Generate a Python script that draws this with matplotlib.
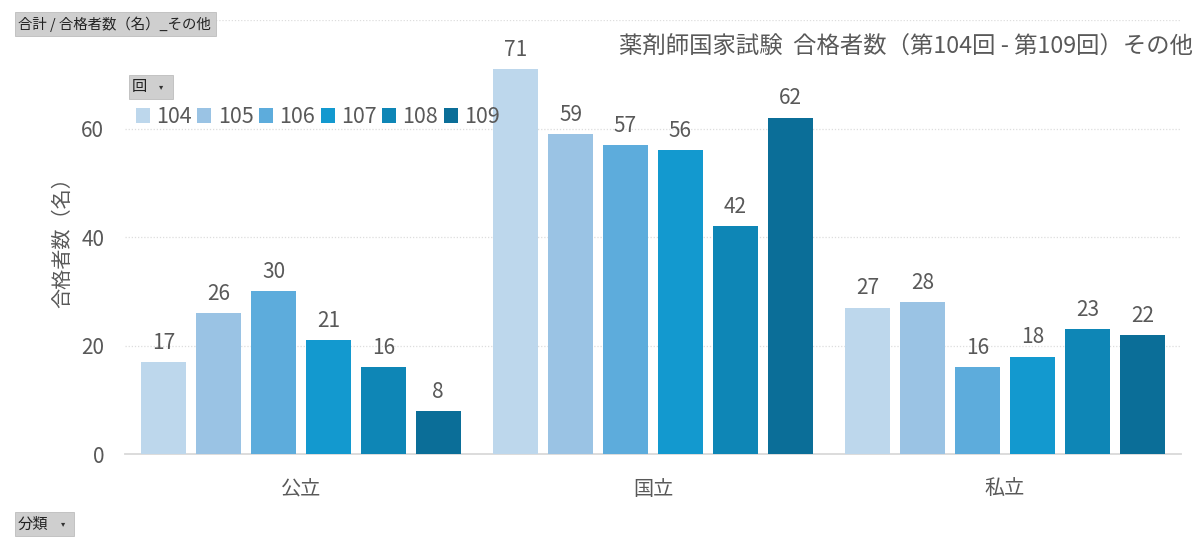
import matplotlib
matplotlib.use("Agg")
import matplotlib.pyplot as plt
import matplotlib.patches as mpatches
import numpy as np

plt.rcParams['font.family'] = ['Noto Sans CJK JP', 'DejaVu Sans']

categories = ['公立', '国立', '私立']
series_names = ['104', '105', '106', '107', '108', '109']
values = {
    '104': [17, 71, 27],
    '105': [26, 59, 28],
    '106': [30, 57, 16],
    '107': [21, 56, 18],
    '108': [16, 42, 23],
    '109': [8, 62, 22],
}
colors = ['#BDD7EC', '#9AC3E4', '#5DACDC', '#1399CF', '#0E86B6', '#0B6E98']
yticks = [0, 20, 40, 60]
title = '薬剤師国家試験  合格者数（第104回 - 第109回）その他'
ylabel = '合格者数（名）'

text_color = '#595959'
W, H = 1200, 548

fig = plt.figure(figsize=(12, 5.48), dpi=100)
ax = fig.add_axes([125/W, 1 - 454.3/H, (1181-125)/W, (454.3-20)/H])

x = np.arange(len(categories))
step = 0.156
width = 0.129
for i, (name, c) in enumerate(zip(series_names, colors)):
    bars = ax.bar(x + (i - 2.5) * step, values[name], width, color=c, label=name, zorder=3)
    ax.bar_label(bars, padding=6, fontsize=15, color=text_color)

ax.set_xlim(-0.5, 2.5)
ax.set_ylim(0, 80)
ax.set_yticks(yticks)
ax.set_xticks(x)
ax.set_xticklabels(categories)
ax.tick_params(axis='both', length=0, labelsize=15, labelcolor=text_color)
ax.tick_params(axis='x', labelsize=14.5, pad=18)
ax.tick_params(axis='y', pad=15)

for v in [20, 40, 60, 80]:
    ax.axhline(v, color='#DDDDDD', linestyle=(0, (1, 1.5)), linewidth=0.9, zorder=1)

for s in ['top', 'right', 'left']:
    ax.spines[s].set_visible(False)
ax.spines['bottom'].set_color('#D9D9D9')
ax.spines['bottom'].set_linewidth(1.3)

ax.set_ylabel(ylabel, fontsize=14.5, color=text_color, labelpad=6)

fig.text(1193/W, 1 - 47/H, title, ha='right', va='center', fontsize=16.8, color=text_color)

leg = ax.legend(loc='upper left', bbox_to_anchor=(136/W, 1 - 106/H), bbox_transform=fig.transFigure,
                ncol=6, frameon=False, fontsize=15.5, handlelength=0.65, handleheight=0.65,
                handletextpad=0.3, columnspacing=0.25, borderaxespad=0, borderpad=0)
for t in leg.get_texts():
    t.set_color(text_color)


def button(x0, y0, x1, y1, label, arrow_x=None, fs=11):
    rect = mpatches.Rectangle((x0/W, 1 - y1/H), (x1-x0)/W, (y1-y0)/H, transform=fig.transFigure,
                              facecolor='#CFCFCF', edgecolor='#BDBDBD', linewidth=0.6, zorder=5)
    fig.add_artist(rect)
    fig.text((x0+3)/W, 1 - (y0+y1)/2/H, label, ha='left', va='center', fontsize=fs,
             color='#222222', zorder=6)
    if arrow_x is not None:
        fig.text(arrow_x/W, 1 - (y0+y1)/2/H, '▾', ha='center', va='center', fontsize=6,
                 color='#333333', zorder=6)


button(15, 12, 216, 36, '合計 / 合格者数（名）_その他', fs=10.4)
button(129, 75, 173, 99, '回', arrow_x=161)
button(15, 512, 74, 536, '分類', arrow_x=63)

fig.savefig('out.png', dpi=100)
